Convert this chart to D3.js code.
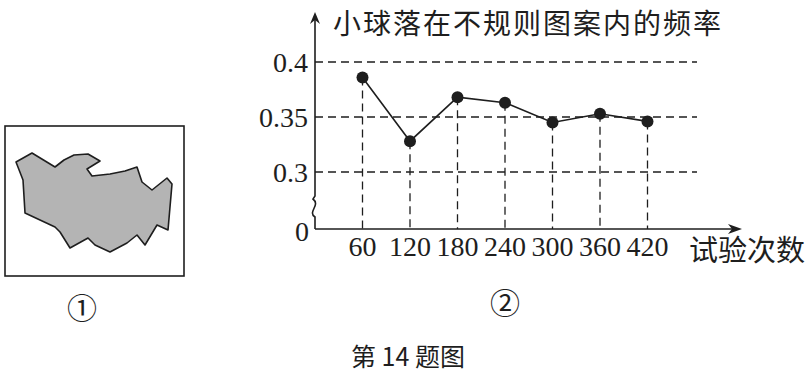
<!DOCTYPE html>
<html><head><meta charset="utf-8">
<script src="https://cdn.jsdelivr.net/npm/d3@7"></script>
<style>body{margin:0;background:#fff}svg{display:block}</style>
</head><body>
<svg id="c" width="811" height="377"></svg>
<script>
const trials = [60, 120, 180, 240, 300, 360, 420];
const freq = [0.386, 0.328, 0.368, 0.363, 0.345, 0.353, 0.346];
const yTicks = [0.3, 0.35, 0.4];
const yTickLabels = ["0.3", "0.35", "0.4"];
const title = "小球落在不规则图案内的频率";
const xTitle = "试验次数";
const caption = "第 14 题图";
const shape = [[16,162],[32,153],[55,167],[64,160],[74,155],[88,154],[100,161],[87,169],[92,176],[110,174],[125,171],[137,167],[142,182],[152,190],[167,178],[172,184],[168,230],[157,225],[145,245],[137,235],[127,243],[110,252],[95,245],[88,238],[70,248],[60,232],[55,227],[25,213],[23,180]];

const svg = d3.select("#c");
const ink = "#1e1e1e";
const serif = "'Liberation Serif','DejaVu Serif',serif";
const cjk = "'Noto Sans CJK SC',sans-serif";

// Figure 1
svg.append("rect").attr("x",5).attr("y",126).attr("width",179).attr("height",150)
  .attr("fill","none").attr("stroke",ink).attr("stroke-width",1.6);
svg.append("path").attr("d", d3.line().curve(d3.curveLinearClosed)(shape))
  .attr("fill","#b4b4b4").attr("stroke",ink).attr("stroke-width",1.6).attr("stroke-linejoin","round");
svg.append("text").attr("x",82).attr("y",308).attr("dy","0.35em").attr("text-anchor","middle")
  .attr("font-family",cjk).attr("font-size",30).attr("fill",ink).text("①");

// Figure 2
const x = d3.scaleLinear().domain([0,420]).range([315, 647.5]);
const y = d3.scaleLinear().domain([0,0.3,0.4]).range([229,172,62]);
const xEnd = 697;

const g = svg.append("g");
// horizontal gridlines
g.selectAll("line.h").data(yTicks).join("line")
  .attr("x1",x(0)).attr("x2",xEnd).attr("y1",d=>y(d)).attr("y2",d=>y(d))
  .attr("stroke",ink).attr("stroke-width",1.3).attr("stroke-dasharray","8,5");
// vertical drop lines
g.selectAll("line.v").data(trials).join("line")
  .attr("x1",d=>x(d)).attr("x2",d=>x(d)).attr("y1",(d,i)=>y(freq[i])).attr("y2",y(0))
  .attr("stroke",ink).attr("stroke-width",1.3).attr("stroke-dasharray","8,5");

// y axis with break
const ax = x(0);
g.append("path").attr("d",`M${ax},${y(0)} L${ax},217 C${ax-8},212 ${ax+6},205 ${ax-2},199 L${ax},196 L${ax},16`)
  .attr("fill","none").attr("stroke",ink).attr("stroke-width",1.6);
g.append("path").attr("d",`M${ax-5},24 L${ax},12 L${ax+5},24 L${ax},20 Z`).attr("fill",ink);
// x axis
g.append("line").attr("x1",ax).attr("x2",736).attr("y1",y(0)).attr("y2",y(0))
  .attr("stroke",ink).attr("stroke-width",1.6);
g.append("path").attr("d",`M728,${y(0)-5} L742,${y(0)} L728,${y(0)+5} L732,${y(0)} Z`).attr("fill",ink);

// y tick labels
g.selectAll("text.yt").data(yTicks).join("text")
  .attr("x",308).attr("y",d=>y(d)).attr("dy","0.35em").attr("text-anchor","end")
  .attr("font-family",serif).attr("font-size",28).attr("fill",ink).text((d,i)=>yTickLabels[i]);
g.append("text").attr("x",309).attr("y",y(0)+2).attr("dy","0.35em").attr("text-anchor","end")
  .attr("font-family",serif).attr("font-size",28).attr("fill",ink).text("0");
// x tick labels
g.selectAll("text.xt").data(trials).join("text")
  .attr("x",d=>x(d)).attr("y",256).attr("text-anchor","middle")
  .attr("font-family",serif).attr("font-size",28).attr("fill",ink).text(d=>d);

// line + points
g.append("path").datum(trials).attr("d",d3.line().x(d=>x(d)).y((d,i)=>y(freq[i])))
  .attr("fill","none").attr("stroke",ink).attr("stroke-width",1.6);
g.selectAll("circle").data(trials).join("circle")
  .attr("cx",d=>x(d)).attr("cy",(d,i)=>y(freq[i])).attr("r",6).attr("fill",ink);

// titles
svg.append("text").attr("x",333).attr("y",34).attr("font-family",cjk).attr("font-size",28)
  .attr("letter-spacing",2).attr("fill",ink).text(title);
svg.append("text").attr("x",689).attr("y",261).attr("font-family",cjk).attr("font-size",29)
  .attr("fill",ink).text(xTitle);
svg.append("text").attr("x",505).attr("y",303).attr("dy","0.35em").attr("text-anchor","middle")
  .attr("font-family",cjk).attr("font-size",30).attr("fill",ink).text("②");
svg.append("text").attr("x",408).attr("y",366).attr("text-anchor","middle")
  .attr("font-family",cjk).attr("font-size",25).attr("fill",ink).text(caption);
</script>
</body></html>
